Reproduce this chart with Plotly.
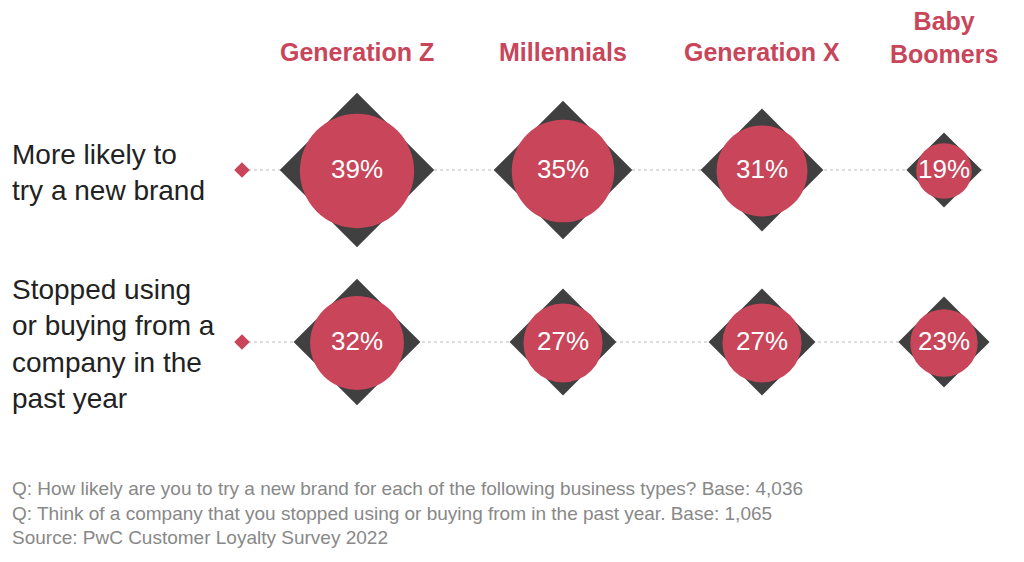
import plotly.graph_objects as go

generations = ["Generation Z", "Millennials", "Generation X", "Baby<br>Boomers"]
questions = ["More likely to<br>try a new brand",
             "Stopped using<br>or buying from a<br>company in the<br>past year"]
try_new = [39, 35, 31, 19]
stopped = [32, 27, 27, 23]
footnote = ("Q: How likely are you to try a new brand for each of the following business types? Base: 4,036<br>"
            "Q: Think of a company that you stopped using or buying from in the past year. Base: 1,065<br>"
            "Source: PwC Customer Loyalty Survey 2022")

RED = "#C8455A"
DARK = "#404040"
FONT = "Liberation Sans"
col_x = [357, 563, 762, 944]
row_y = [170, 342]
half_per_pct = 1.98  # diamond half-diagonal px per percentage point

fig = go.Figure()
for y, vals in zip(row_y, [try_new, stopped]):
    fig.add_trace(go.Scatter(x=[242, 985], y=[y, y], mode="lines",
                             line=dict(color="#bbbbbb", width=1, dash="dot"),
                             hoverinfo="skip"))
    fig.add_trace(go.Scatter(x=[242], y=[y], mode="markers",
                             marker=dict(symbol="diamond", size=12, color=RED, opacity=1)))
    halves = [v * half_per_pct for v in vals]
    fig.add_trace(go.Scatter(x=col_x, y=[y] * 4, mode="markers",
                             marker=dict(symbol="diamond", size=[h / 0.65 for h in halves],
                                         color=DARK, opacity=1, line=dict(width=0))))
    fig.add_trace(go.Scatter(x=col_x, y=[y + 1] * 4, mode="markers+text",
                             marker=dict(symbol="circle", size=[2 * 0.74 * h for h in halves],
                                         color=RED, opacity=1, line=dict(width=0)),
                             text=[f"{v}%" for v in vals],
                             textfont=dict(color="white", size=26, family=FONT)))

for x, g in zip(col_x, generations):
    fig.add_annotation(x=x, y=37 if "<br>" in g else 52, text=f"<b>{g}</b>", showarrow=False,
                       yanchor="middle", font=dict(color=RED, size=25, family=FONT))
for y, q in zip(row_y, questions):
    fig.add_annotation(x=10, y=y + 2, text=q, showarrow=False, xanchor="left", align="left",
                       font=dict(color="#222222", size=28, family=FONT))
fig.add_annotation(x=10, y=513, text=footnote, showarrow=False, xanchor="left", align="left",
                   font=dict(color="#888888", size=19, family=FONT))

fig.update_layout(width=1024, height=562, margin=dict(l=0, r=0, t=0, b=0),
                  plot_bgcolor="white", paper_bgcolor="white", showlegend=False,
                  xaxis=dict(range=[8, 1032], visible=False),
                  yaxis=dict(range=[570, 8], visible=False))
fig.write_html("out.html")
